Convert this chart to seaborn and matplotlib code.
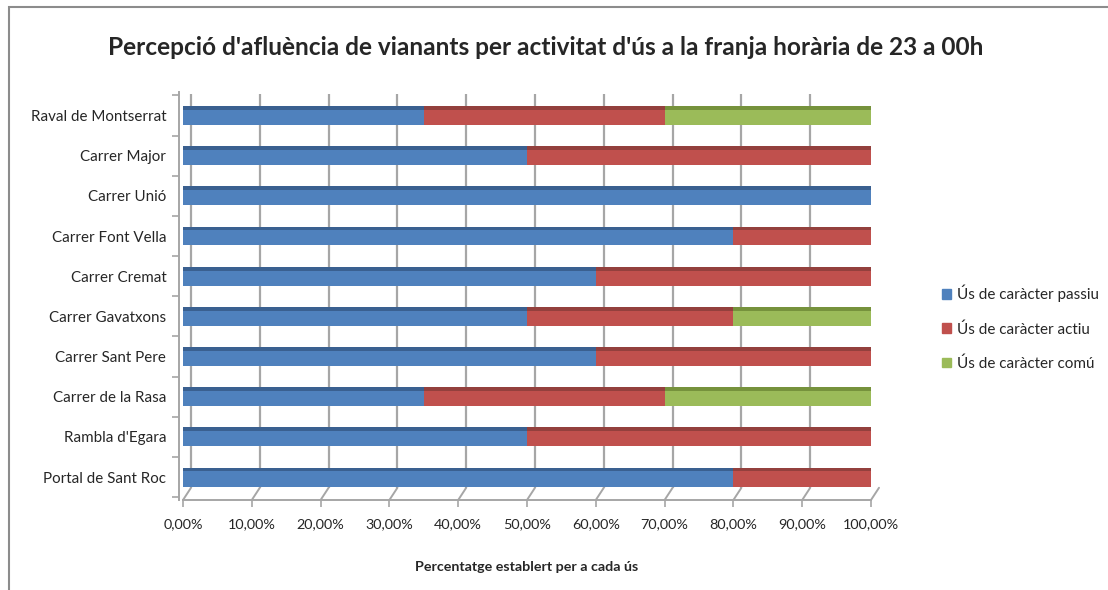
import numpy as np
import pandas as pd
import matplotlib
matplotlib.use("Agg")
import matplotlib.pyplot as plt
import matplotlib.patches as mpatches
import matplotlib.transforms as mtransforms
from matplotlib.ticker import FuncFormatter
import seaborn as sns

sns.set_theme(style="white")
plt.rcParams["font.family"] = ["Lato", "DejaVu Sans"]

# Dades (de dalt a baix, tal com surten al gràfic)
CARRERS = ["Raval de Montserrat", "Carrer Major", "Carrer Unió", "Carrer Font Vella",
           "Carrer Cremat", "Carrer Gavatxons", "Carrer Sant Pere", "Carrer de la Rasa",
           "Rambla d'Egara", "Portal de Sant Roc"]
PASSIU = [35, 50, 100, 80, 60, 50, 60, 35, 50, 80]
ACTIU = [35, 50, 0, 20, 40, 30, 40, 35, 50, 20]
COMU = [30, 0, 0, 0, 0, 20, 0, 30, 0, 0]
SERIES = ["Ús de caràcter passiu", "Ús de caràcter actiu", "Ús de caràcter comú"]

COLORS = ["#4f81bd", "#c0504d", "#9bbb59"]
TOPS = ["#3a6090", "#93403d", "#76923c"]
GRID = "#a6a6a6"

df = pd.DataFrame({"carrer": CARRERS, "passiu": PASSIU, "actiu": ACTIU, "comu": COMU})
df["c1"] = df["passiu"]
df["c2"] = df["passiu"] + df["actiu"]
df["c3"] = df["c2"] + df["comu"]

fig = plt.figure(figsize=(11.08, 5.90), dpi=100)
ax = fig.add_axes([183 / 1108, 90 / 590, 688 / 1108, 408 / 590])

bar_h = 0.47
xticks = np.arange(0, 101, 10)

# paret del fons i terra (efecte 3D)
off = mtransforms.ScaledTranslation(8 / 100, 0, fig.dpi_scale_trans)
blend = mtransforms.blended_transform_factory(ax.transData, ax.transAxes)
ax.vlines(xticks, 0.03, 0.995, transform=blend + off, color=GRID, lw=1.6, zorder=0)
dx = 8 / 688 * 100
for t in xticks:
    ax.plot([t, t + dx], [0, 0.03], transform=blend, color=GRID, lw=1.4,
            zorder=0, clip_on=False)

# barres apilades (de la suma total cap a la primera sèrie)
for col, color in zip(["c3", "c2", "c1"], COLORS[::-1]):
    sns.barplot(data=df, x=col, y="carrer", orient="h", color=color,
                width=bar_h, saturation=1, linewidth=0, ax=ax, zorder=2)

# cara superior fosca i lateral dret
ypos = np.arange(len(CARRERS))
strip = bar_h * 0.2
starts = [np.zeros(len(CARRERS)), df["c1"].values, df["c2"].values]
for vals, left, top in zip([PASSIU, ACTIU, COMU], starts, TOPS):
    ax.barh(ypos - bar_h / 2 + strip / 2, vals, left=left, height=strip,
            color=top, linewidth=0, zorder=3)
ax.barh(ypos, 0.6, left=df["c3"].values, height=bar_h, color="#6f8a35",
        linewidth=0, zorder=3)

ax.set_xlim(0, 100)
ax.set_ylim(len(CARRERS) - 0.43, -0.585)
ax.set_xticks(xticks)
ax.xaxis.set_major_formatter(FuncFormatter(lambda v, p: f"{v:.2f}%".replace(".", ",")))
ax.set_yticks(ypos)
ax.set_yticks(np.arange(-0.5, len(CARRERS), 1), minor=True)
ax.tick_params(axis="y", which="major", length=0, pad=9, labelsize=10.9)
ax.tick_params(axis="y", which="minor", length=5, width=1.2, color=GRID, direction="out", left=True)
ax.tick_params(axis="x", length=5, width=1.2, color=GRID, direction="out", bottom=True,
               pad=8, labelsize=10.4)
ax.set_xlabel("Percentatge establert per a cada ús", fontsize=10.3, fontweight="bold",
              labelpad=22)
ax.set_ylabel("")
for s in ["top", "right"]:
    ax.spines[s].set_visible(False)
for s in ["left", "bottom"]:
    ax.spines[s].set_color(GRID)
    ax.spines[s].set_linewidth(1.4)
ax.spines["left"].set_position(("outward", 3))
ax.set_facecolor("none")

fig.suptitle("Percepció d'afluència de vianants per activitat d'ús a la franja horària de 23 a 00h",
             x=546 / 1108, y=1 - 36 / 590, fontsize=17.6, fontweight="bold")

handles = [mpatches.Patch(color=c, label=l) for c, l in zip(COLORS, SERIES)]
fig.legend(handles=handles, loc="upper left", bbox_to_anchor=(928 / 1108, 1 - 271 / 590),
           frameon=False, fontsize=11, handlelength=0.6, handleheight=0.6,
           handletextpad=0.4, labelspacing=1.3)

# marc exterior del gràfic
fig.patches.append(mpatches.Rectangle((9 / 1108, -0.05), 1.1, 1.05 - 7 / 590,
                                      transform=fig.transFigure, fill=False,
                                      edgecolor="#8c8c8c", lw=1.5))

fig.savefig("out.png", dpi=100)
